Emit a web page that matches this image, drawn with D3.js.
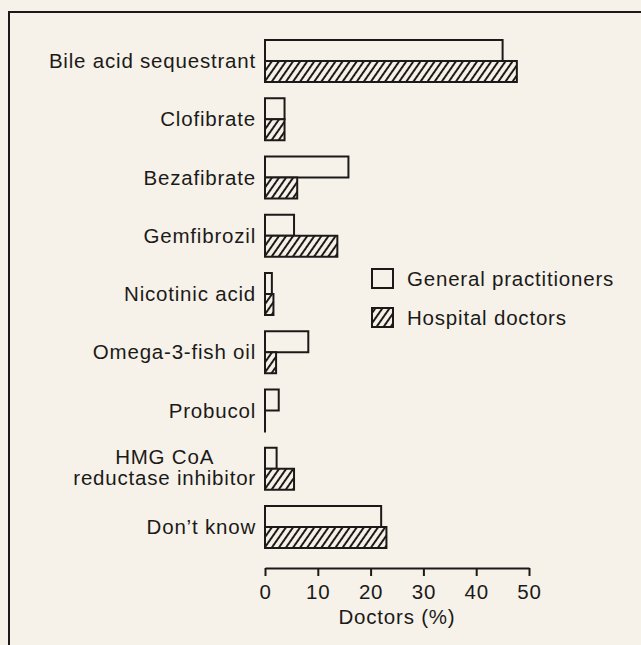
<!DOCTYPE html>
<meta charset="utf-8">
<style>
body { margin: 0; background: #f6f2ea; }
text {
  font-family: "Liberation Sans", Arial, sans-serif;
  font-size: 20.5px;
  letter-spacing: 0.8px;
  fill: #1c1a18;
}
</style>
<body>
<script src="https://cdn.jsdelivr.net/npm/d3@7"></script>
<script>

// data
var categories = ["Bile acid sequestrant", "Clofibrate", "Bezafibrate", "Gemfibrozil",
                  "Nicotinic acid", "Omega-3-fish oil", "Probucol",
                  "HMG CoA\nreductase inhibitor", "Don\u2019t know"];
var gpValues   = [45, 3.7, 15.8, 5.5, 1.3, 8.2, 2.6, 2.2, 22];
var hospValues = [47.7, 3.7, 6.1, 13.7, 1.6, 2.1, 0, 5.5, 23];
var series = ["General practitioners", "Hospital doctors"];
var xTicks = [0, 10, 20, 30, 40, 50];

var width = 641, height = 645;
var ink = "#1c1a18", paper = "#f6f2ea";

var svg = d3.select("body").append("svg")
    .attr("width", width)
    .attr("height", height);

// hatch for hospital doctors
var pat = svg.append("defs").append("pattern")
    .attr("id", "hatch")
    .attr("patternUnits", "userSpaceOnUse")
    .attr("width", 5.8)
    .attr("height", 10)
    .attr("patternTransform", "rotate(35)");
pat.append("rect").attr("width", 5.8).attr("height", 10).attr("fill", paper);
pat.append("line")
    .attr("x1", 2.9).attr("y1", 0).attr("x2", 2.9).attr("y2", 10)
    .attr("stroke", ink).attr("stroke-width", 2);

// frame
svg.append("rect")
    .attr("x", 9).attr("y", 12)
    .attr("width", 800).attr("height", 800)
    .attr("fill", "none").attr("stroke", ink).attr("stroke-width", 2);

// scales
var x = d3.scaleLinear().domain([0, 50]).range([265, 529]);
var y = d3.scaleBand().domain(categories).range([40, 548]).paddingInner(0.279);
var inner = d3.scaleBand().domain(series).range([0, y.bandwidth()]);

var rows = categories.map(function(c, i) {
  return {cat: c, values: [
    {s: series[0], v: gpValues[i]},
    {s: series[1], v: hospValues[i]}
  ]};
});

var groups = svg.append("g").selectAll("g")
    .data(rows)
  .enter().append("g")
    .attr("transform", function(d) { return "translate(0," + y(d.cat) + ")"; });

// a zero bar still shows as a line on the baseline, so keep a tiny width
groups.selectAll("rect")
    .data(function(d) { return d.values; })
  .enter().append("rect")
    .attr("x", x(0))
    .attr("y", function(d) { return inner(d.s); })
    .attr("width", function(d) { return Math.max(x(d.v) - x(0), 0.01); })
    .attr("height", inner.bandwidth())
    .attr("fill", function(d) { return d.s === series[0] ? paper : "url(#hatch)"; })
    .attr("stroke", ink)
    .attr("stroke-width", 2);

// category labels
groups.each(function(d) {
  var g = d3.select(this);
  var lines = d.cat.split("\n");
  var mid = y.bandwidth() / 2;
  if (lines.length === 1) {
    g.append("text")
        .attr("x", 256).attr("y", mid).attr("dy", "0.35em")
        .attr("text-anchor", "end")
        .text(lines[0]);
  } else {
    var second = g.append("text")
        .attr("x", 256).attr("y", mid + 16)
        .attr("text-anchor", "end")
        .text(lines[1]);
    var w = second.node().getComputedTextLength();
    g.append("text")
        .attr("x", 256 - w / 2).attr("y", mid - 5)
        .attr("text-anchor", "middle")
        .text(lines[0]);
  }
});

// x axis
var axis = svg.append("g")
    .attr("transform", "translate(0,568)")
    .call(d3.axisBottom(x).tickValues(xTicks).tickSize(8).tickSizeOuter(0).tickPadding(8));
axis.select(".domain").attr("stroke", ink).attr("stroke-width", 2);
axis.selectAll(".tick line").attr("stroke", ink).attr("stroke-width", 2);

svg.append("text")
    .attr("x", (x(0) + x(50)) / 2)
    .attr("y", 624)
    .attr("text-anchor", "middle")
    .text("Doctors (%)");

// legend
var legend = svg.append("g").selectAll("g")
    .data(series)
  .enter().append("g")
    .attr("transform", function(d, i) { return "translate(372," + (269 + i * 39) + ")"; });

legend.append("rect")
    .attr("width", 21).attr("height", 19)
    .attr("fill", function(d, i) { return i === 0 ? paper : "url(#hatch)"; })
    .attr("stroke", ink).attr("stroke-width", 2);

legend.append("text")
    .attr("x", 35).attr("y", 17)
    .text(function(d) { return d; });

</script>
</body>
